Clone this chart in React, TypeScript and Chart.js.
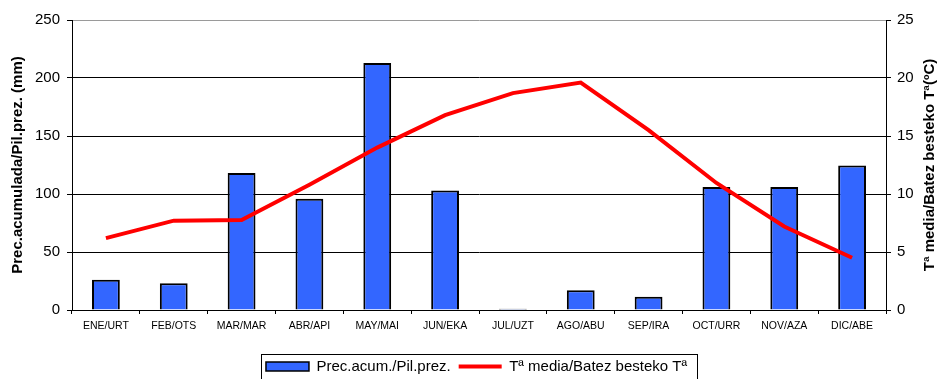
import React, { useEffect, useRef } from 'react';
import { Chart, registerables } from 'chart.js';

Chart.register(...registerables);

const months = ['ENE/URT', 'FEB/OTS', 'MAR/MAR', 'ABR/API', 'MAY/MAI', 'JUN/EKA', 'JUL/UZT', 'AGO/ABU', 'SEP/IRA', 'OCT/URR', 'NOV/AZA', 'DIC/ABE'];
const precipitation = [26, 23, 118, 96, 213, 103, 1, 17, 11.5, 106, 106, 124.5];
const temperature = [6.2, 7.7, 7.75, 10.8, 14.0, 16.8, 18.7, 19.6, 15.5, 10.95, 7.2, 4.5];

const precipLabel = 'Prec.acum./Pil.prez.';
const tempLabel = 'Tª media/Batez besteko Tª';
const leftTitle = 'Prec.acumulada/Pil.prez. (mm)';
const rightTitle = 'Tª media/Batez besteko Tª(ºC)';

const FONT = "'Liberation Sans', Arial, Helvetica, sans-serif";
const BAR_COLOR = '#3366FF';
const LINE_COLOR = '#FF0000';

const extrasPlugin = {
  id: 'extras',
  afterDraw(chart: any) {
    const ctx = chart.ctx;
    const area = chart.chartArea;
    // right axis title, reading bottom-to-top
    ctx.save();
    ctx.translate(chart.width - 8, (area.top + area.bottom) / 2);
    ctx.rotate(-Math.PI / 2);
    ctx.font = `bold 15px ${FONT}`;
    ctx.fillStyle = '#000';
    ctx.textAlign = 'center';
    ctx.textBaseline = 'middle';
    ctx.fillText(rightTitle, 0, 0);
    ctx.restore();
    // legend border
    const boxes = chart.legend && chart.legend.legendHitBoxes;
    if (boxes && boxes.length) {
      const first = boxes[0];
      const last = boxes[boxes.length - 1];
      const left = first.left - 5;
      const right = last.left + last.width + 10;
      const top = first.top - 5;
      ctx.save();
      ctx.strokeStyle = '#000';
      ctx.lineWidth = 1;
      ctx.strokeRect(Math.round(left) + 0.5, Math.round(top) + 0.5, Math.round(right - left), 60);
      ctx.restore();
    }
  },
};

export default function App() {
  const ref = useRef<HTMLCanvasElement | null>(null);

  useEffect(() => {
    if (!ref.current) return;
    const chart = new Chart(ref.current, {
      type: 'bar',
      data: {
        labels: months,
        datasets: [
          {
            type: 'bar',
            label: precipLabel,
            data: precipitation,
            backgroundColor: BAR_COLOR,
            borderColor: '#000',
            borderWidth: 2,
            barPercentage: 0.41,
            categoryPercentage: 1,
            yAxisID: 'y',
            order: 2,
          },
          {
            type: 'line',
            label: tempLabel,
            data: temperature,
            borderColor: LINE_COLOR,
            backgroundColor: LINE_COLOR,
            borderWidth: 4,
            pointRadius: 0,
            tension: 0,
            yAxisID: 'y1',
            order: 1,
          } as any,
        ],
      },
      options: {
        responsive: false,
        animation: false,
        events: [],
        layout: { padding: { left: 15, right: 0, top: 20, bottom: 0 } },
        plugins: {
          tooltip: { enabled: false },
          legend: {
            position: 'bottom',
            labels: {
              font: { size: 15, family: FONT },
              color: '#000',
              padding: 8,
              usePointStyle: true,
              pointStyleWidth: 43,
              boxHeight: 9,
              generateLabels: () => [
                { text: precipLabel, fillStyle: BAR_COLOR, strokeStyle: '#000', lineWidth: 1.5, pointStyle: 'rect', datasetIndex: 0, hidden: false, fontColor: '#000' } as any,
                { text: tempLabel, fillStyle: LINE_COLOR, strokeStyle: LINE_COLOR, lineWidth: 4, pointStyle: 'line', datasetIndex: 1, hidden: false, fontColor: '#000' } as any,
              ],
            },
          },
        },
        scales: {
          x: {
            grid: { display: true, drawOnChartArea: false, drawTicks: true, tickLength: 4, color: '#000', offset: true },
            border: { display: true, color: '#000', width: 1 },
            ticks: { font: { size: 10.5, family: FONT }, color: '#000', padding: 6, maxRotation: 0, autoSkip: false },
            afterFit: (scale: any) => { scale.height = 41; },
          },
          y: {
            position: 'left',
            min: 0,
            max: 250,
            ticks: { stepSize: 50, font: { size: 15, family: FONT }, color: '#000', padding: 7 },
            grid: {
              color: (c: any) => (c.tick && c.tick.value === 250 ? '#9a9a9a' : '#000'),
              tickColor: '#000',
              tickLength: 5,
              lineWidth: 1,
            },
            border: { display: true, color: '#000', width: 1 },
            title: { display: true, text: leftTitle, color: '#000', font: { size: 15, weight: 'bold', family: FONT }, padding: { top: -6, bottom: 0 } },
            afterFit: (scale: any) => { scale.width = 57; },
          },
          y1: {
            position: 'right',
            min: 0,
            max: 25,
            ticks: { stepSize: 5, font: { size: 15, family: FONT }, color: '#000', padding: 6 },
            grid: { drawOnChartArea: false, color: '#000', tickLength: 5 },
            border: { display: true, color: '#000', width: 1 },
            afterFit: (scale: any) => { scale.width = 52; },
          },
        },
      } as any,
      plugins: [extrasPlugin],
    });
    return () => chart.destroy();
  }, []);

  return (
    <div style={{ position: 'fixed', left: 0, top: 0, width: 938, height: 379, overflow: 'hidden', background: '#fff' }}>
      <canvas ref={ref} width={938} height={384} style={{ display: 'block' }} />
    </div>
  );
}
